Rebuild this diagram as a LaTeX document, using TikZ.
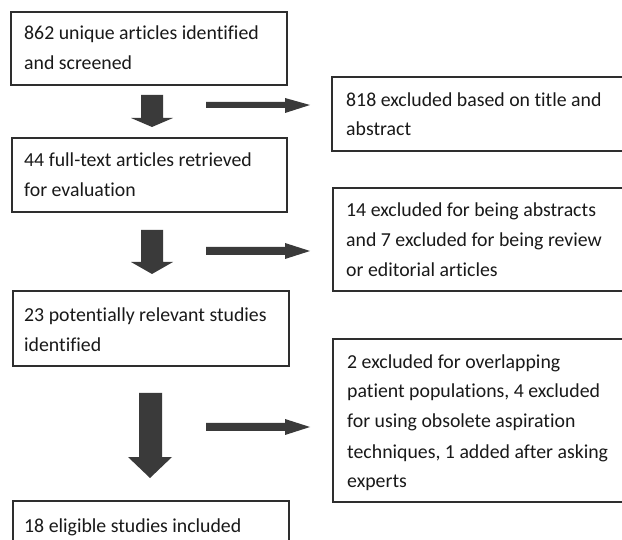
\documentclass[tikz,border=0pt]{standalone}
\usepackage{fontspec}
\setmainfont{Carlito}[Ligatures=NoCommon]
\definecolor{arr}{HTML}{3A3A3A}
\definecolor{bord}{HTML}{2E2E2E}
\begin{document}
\begin{tikzpicture}[x=1pt,y=-1pt,
  boxsty/.style={draw=bord,line width=1.4pt},
  txt/.style={anchor=base west,inner sep=0pt,font=\fontsize{19.8}{24}\selectfont,text=black!90},
  arrsty/.style={fill=arr,draw=none}]
\useasboundingbox (0,0) rectangle (622,540);
\clip (0,0) rectangle (622,540);
\fill[white] (0,0) rectangle (622,540);
% boxes
\draw[boxsty] (11,12) rectangle (287,85) coordinate (b1);
\draw[boxsty] (12,138) rectangle (287,212) coordinate (b2);
\draw[boxsty] (13,291) rectangle (289,366) coordinate (b3);
\draw[boxsty] (13,501) rectangle (289,560) coordinate (b4);
\draw[boxsty] (332,77) rectangle (640,151) coordinate (r1);
\draw[boxsty] (333,188) rectangle (640,291) coordinate (r2);
\draw[boxsty] (333,339) rectangle (640,502) coordinate (r3);
% texts
\node[txt] (t1a) at (24,40) {862 unique articles identified};
\node[txt] (t1b) at (24,70) {and screened};
\node[txt] (t2a) at (24,167) {44 full-text articles retrieved};
\node[txt] (t2b) at (24,197) {for evaluation};
\node[txt] (t3a) at (24,322) {23 potentially relevant studies};
\node[txt] (t3b) at (24,352) {identified};
\node[txt] (t4a) at (24,532) {18 eligible studies included};
\node[txt] (s1a) at (346,107) {818 excluded based on title and};
\node[txt] (s1b) at (346,136) {abstract};
\node[txt] (s2a) at (346,217) {14 excluded for being abstracts};
\node[txt] (s2b) at (346,247) {and 7 excluded for being review};
\node[txt] (s2c) at (346,277) {or editorial articles};
\node[txt] (s3a) at (347,369) {2 excluded for overlapping};
\node[txt] (s3b) at (347,398) {patient populations, 4 excluded};
\node[txt] (s3c) at (347,428) {for using obsolete aspiration};
\node[txt] (s3d) at (347,458) {techniques, 1 added after asking};
\node[txt] (s3e) at (347,487) {experts};
% down arrows
\fill[arrsty] (141,95) -- (163,95) -- (163,118) -- (173,118) -- (152,127) -- (131,118) -- (141,118) -- cycle;
\fill[arrsty] (141,230) -- (163,230) -- (163,262) -- (173,262) -- (152,274) -- (131,262) -- (141,262) -- cycle;
\fill[arrsty] (139,393) -- (162,393) -- (162,457) -- (172,457) -- (150,478) -- (128,457) -- (139,457) -- cycle;
% right arrows
\fill[arrsty] (206,102) -- (285,102) -- (285,98) -- (310,105) -- (285,113) -- (285,108) -- (206,108) -- cycle;
\fill[arrsty] (206,247) -- (285,247) -- (285,243) -- (310,251) -- (285,259) -- (285,255) -- (206,255) -- cycle;
\fill[arrsty] (206,423) -- (285,423) -- (285,419) -- (310,427) -- (285,435) -- (285,431) -- (206,431) -- cycle;
\end{tikzpicture}
\end{document}
